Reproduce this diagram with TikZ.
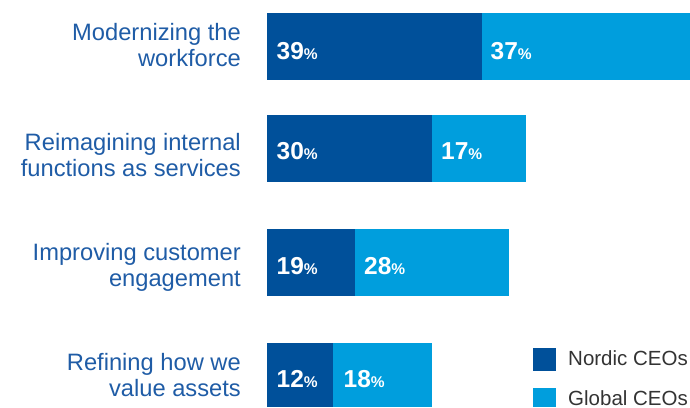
\documentclass[tikz,border=0pt]{standalone}
\usepackage{fontspec}
\setmainfont{Liberation Sans}
\definecolor{nordic}{HTML}{00509A}
\definecolor{global}{HTML}{009EDD}
\definecolor{labelblue}{HTML}{1F5CA6}
\definecolor{legendgray}{HTML}{333333}
\tikzset{
  nordicbar/.style={fill=nordic, draw=none},
  globalbar/.style={fill=global, draw=none},
  catlabel/.style={anchor=base east, align=right, inner sep=0pt, text=labelblue,
    font=\fontsize{23.7}{26}\selectfont},
  pctlabel/.style={anchor=base west, inner sep=0pt, text=white},
  legendtext/.style={anchor=base west, inner sep=0pt, text=legendgray,
    font=\fontsize{20.5}{24}\selectfont},
}
\newcommand{\pctval}[1]{{\fontsize{24.5}{25}\selectfont\bfseries #1}{\fontsize{15.5}{16}\selectfont\bfseries\%}}
\begin{document}
\begin{tikzpicture}[x=1pt,y=-1pt]
\useasboundingbox (0,0) rectangle (690,407);
% bars
\path[nordicbar] (267,13) rectangle (482,80);
\path[globalbar] (482,13) rectangle (690,80);
\path[nordicbar] (267,115) rectangle (432,182);
\path[globalbar] (432,115) rectangle (526,182);
\path[nordicbar] (267,229) rectangle (355,296);
\path[globalbar] (355,229) rectangle (509,296);
\path[nordicbar] (267,343) rectangle (333,407);
\path[globalbar] (333,343) rectangle (432,407);
% percentages
\node[pctlabel] (p1n) at (276.5,59) {\pctval{39}};
\node[pctlabel] (p1g) at (490.5,59) {\pctval{37}};
\node[pctlabel] (p2n) at (276.5,159.3) {\pctval{30}};
\node[pctlabel] (p2g) at (441,159.3) {\pctval{17}};
\node[pctlabel] (p3n) at (276.5,274.7) {\pctval{19}};
\node[pctlabel] (p3g) at (364,274.7) {\pctval{28}};
\node[pctlabel] (p4n) at (276.5,387) {\pctval{12}};
\node[pctlabel] (p4g) at (343.5,387) {\pctval{18}};
% category labels (base anchor = baseline of the last line)
\node[catlabel] (l1) at (241,66.7) {Modernizing the\\workforce};
\node[catlabel] (l2) at (241,176.7) {Reimagining internal\\functions as services};
\node[catlabel] (l3) at (241,286.7) {Improving customer\\engagement};
\node[catlabel] (l4) at (241,396.7) {Refining how we\\value assets};
% legend
\path[nordicbar] (533,348) rectangle (556,371);
\path[globalbar] (533,388) rectangle (556,407);
\node[legendtext] (ln) at (568,365) {Nordic CEOs};
\node[legendtext] (lg) at (568,405) {Global CEOs};
\end{tikzpicture}
\end{document}
